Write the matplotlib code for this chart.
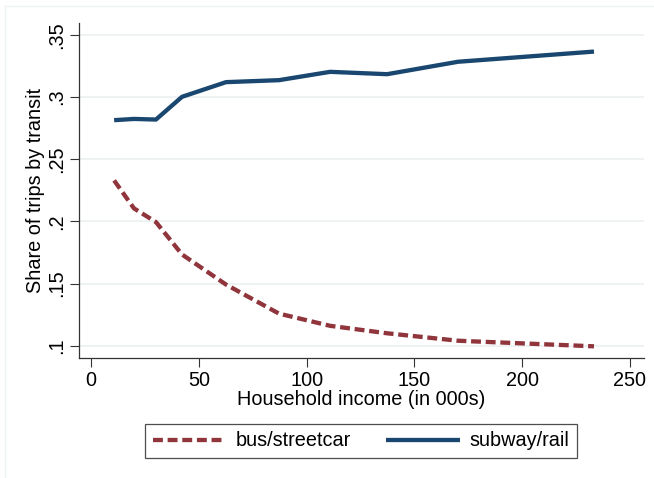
import matplotlib.pyplot as plt
from matplotlib.lines import Line2D

plt.rcParams['font.family'] = ['Liberation Sans', 'DejaVu Sans']

# household income bins (in 000s)
income = [10.7, 19.9, 30.1, 42.2, 62.6, 87.2, 110.9, 137.3, 170.2, 233.3]
# share of trips by mode
bus_share = [0.233, 0.2105, 0.1995, 0.1734, 0.1492, 0.1258, 0.116, 0.110, 0.104, 0.0995]
rail_share = [0.2815, 0.2825, 0.282, 0.3003, 0.3121, 0.3137, 0.3204, 0.3185, 0.3285, 0.3367]

xticks = [0, 50, 100, 150, 200, 250]
yticks = [0.1, 0.15, 0.2, 0.25, 0.3, 0.35]
ytick_labels = ['.1', '.15', '.2', '.25', '.3', '.35']

NAVY = '#1a476f'
MAROON = '#90353b'
GRID = '#e9eff0'
FS = 14.3

W, H = 654, 478
fig = plt.figure(figsize=(W / 100, H / 100), dpi=100)
ax = fig.add_axes([79 / W, 1 - 358 / H, (644 - 79) / W, (358 - 23) / H])

# faint outer graph-region border (stata look)
fig.add_artist(Line2D([4.5 / W, 4.5 / W], [0, 1 - 6 / H], color='#eef3f3', lw=1))
fig.add_artist(Line2D([4.5 / W, 1], [1 - 6 / H, 1 - 6 / H], color='#eef3f3', lw=1))

ax.plot(income, bus_share, color=MAROON, lw=3.1, ls=(0, (2.3, 1.1)),
        dash_capstyle='butt', solid_joinstyle='miter', label='bus/streetcar')
ax.plot(income, rail_share, color=NAVY, lw=3.1, solid_capstyle='butt',
        label='subway/rail')

ax.set_xlim(-5.6, 256.5)
ax.set_ylim(0.0901, 0.3597)
ax.set_xticks(xticks)
ax.set_yticks(yticks)
ax.set_yticklabels(ytick_labels, rotation=90, va='center')
ax.grid(axis='y', color=GRID, lw=1.1)
ax.set_axisbelow(True)

for s in ['top', 'right']:
    ax.spines[s].set_visible(False)
for s in ['left', 'bottom']:
    ax.spines[s].set_color('#333333')
    ax.spines[s].set_linewidth(0.9)

ax.tick_params(axis='both', length=6.5, width=0.8, color='#333333',
               labelsize=FS, pad=3)

ax.set_xlabel('Household income (in 000s)', fontsize=FS, labelpad=0)
ax.set_ylabel('Share of trips by transit', fontsize=FS, labelpad=1)

leg = fig.legend(loc='center', bbox_to_anchor=(361 / W, 1 - 441 / H), ncol=2,
                 fontsize=FS, frameon=True, fancybox=False, handlelength=3.7,
                 columnspacing=1.75, handletextpad=0.5, borderpad=0.4,
                 borderaxespad=0)
leg.get_frame().set_edgecolor('#222222')
leg.get_frame().set_linewidth(0.9)

fig.savefig('out.png', dpi=100, facecolor='white')
